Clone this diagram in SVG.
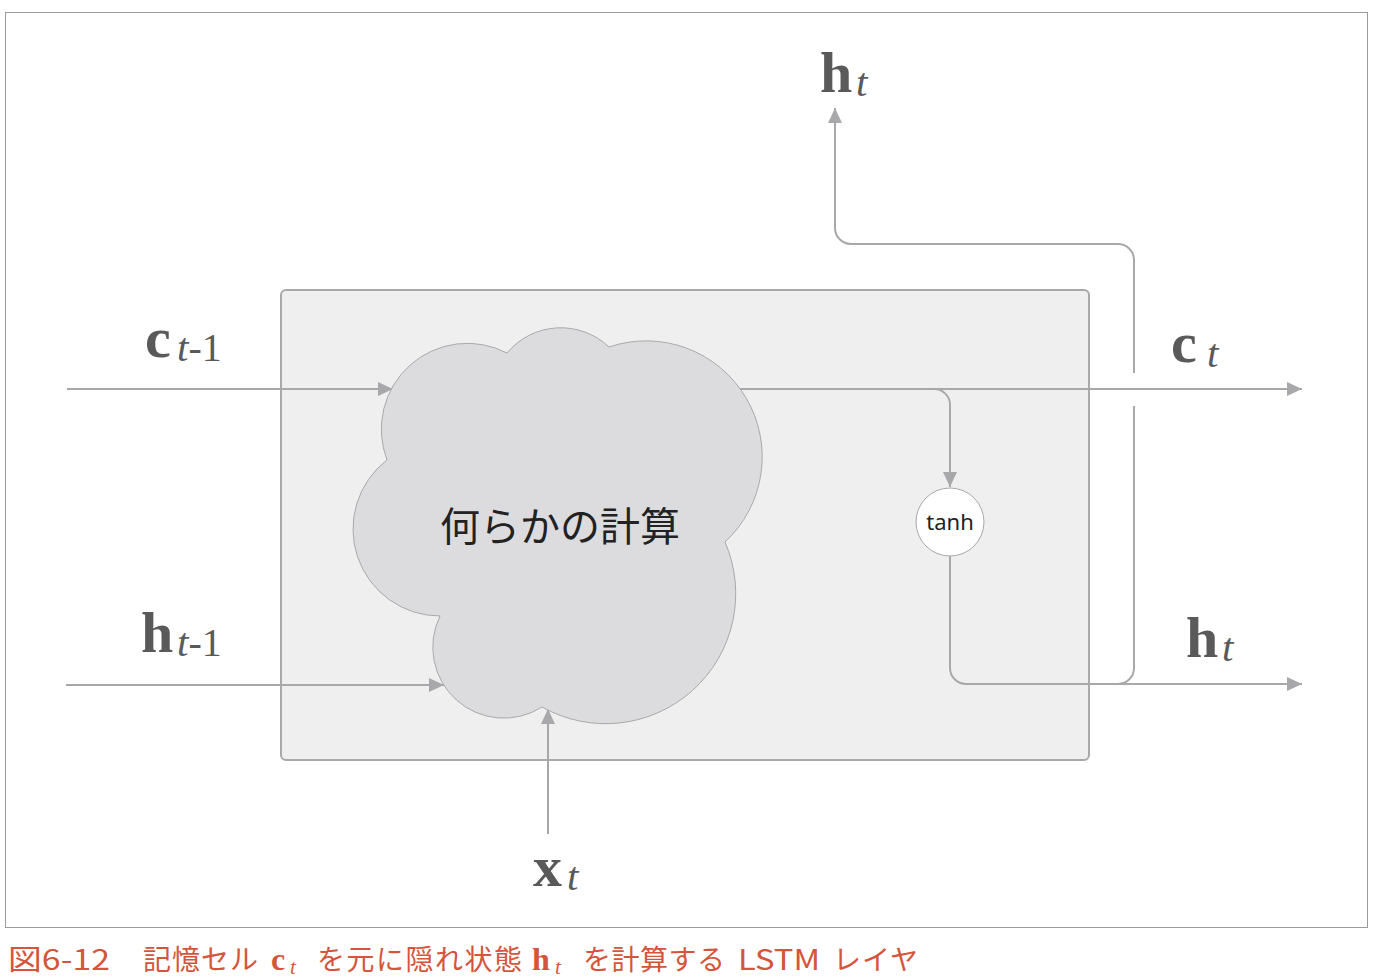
<svg xmlns="http://www.w3.org/2000/svg" width="1380" height="980" viewBox="0 0 1380 980">
<style>
.ln{fill:none;stroke:#a8a8ab;stroke-width:2}
.b{font-family:"Liberation Serif",serif;font-weight:bold;font-size:58px;fill:#5a5a5a}
.i{font-family:"Liberation Serif",serif;font-style:italic;font-size:41px;fill:#5a5a5a}
.n{font-family:"Liberation Serif",serif;font-size:40px;fill:#5a5a5a}
.cap{font-family:"Noto Sans CJK JP","Noto Sans",sans-serif;font-size:28px;fill:#d4553b}
.capb{font-family:"Liberation Serif",serif;font-weight:bold;font-size:32px;fill:#d4553b}
.capi{font-family:"Liberation Serif",serif;font-style:italic;font-size:21px;fill:#d4553b}
</style>
<defs>
<marker id="ah" markerUnits="userSpaceOnUse" markerWidth="16" markerHeight="14" refX="15" refY="7" orient="auto">
<path d="M0,0 L15,7 L0,14 z" fill="#a8a8ab"/>
</marker>
</defs>
<rect x="5.5" y="12.5" width="1362" height="915" fill="none" stroke="#9a9a9a" stroke-width="1"/>
<g id="layer">
<rect x="281" y="290" width="808" height="470" rx="5" fill="#efefef" stroke="#a9a9a9" stroke-width="2"/>
</g>
<g id="connectors">
<path class="ln" d="M67,389 H393" marker-end="url(#ah)"/>
<path class="ln" d="M66,685 H444" marker-end="url(#ah)"/>
<path class="ln" d="M548,834 V709" marker-end="url(#ah)"/>
<path class="ln" d="M740,389 H1302" marker-end="url(#ah)"/>
<path class="ln" d="M933,389 A16,16 0 0 1 950,406 V487" marker-end="url(#ah)"/>
<path class="ln" d="M950,556 V668 A16,16 0 0 0 966,684 H1302" marker-end="url(#ah)"/>
<path class="ln" d="M1118,684 A16,16 0 0 0 1134,668 V406"/>
<path class="ln" d="M1134,373 V260 A16,16 0 0 0 1118,244 H851 A16,16 0 0 1 835,228 V108" marker-end="url(#ah)"/>
</g>
<g id="cloud">
<path d="M387,460 A86,86 0 0 1 507,353 A70,70 0 0 1 609,347 A116,116 0 0 1 725,542 A130,130 0 0 1 542,707 A71,71 0 0 1 440,616 A87,87 0 0 1 387,460 Z" fill="#dcdcde" stroke="#a9a9ab" stroke-width="1"/>
<text x="560" y="541" text-anchor="middle" font-family="Noto Sans CJK JP,sans-serif" font-size="40" fill="#222">何らかの計算</text>
</g>
<g id="tanh">
<circle cx="950" cy="522" r="34" fill="#fff" stroke="#a9a9ab" stroke-width="1"/>
<text x="950" y="530" text-anchor="middle" font-family="Noto Sans,sans-serif" font-size="22" fill="#222">tanh</text>
</g>
<g id="labels">
<text y="92"><tspan class="b" x="820">h</tspan><tspan class="i" x="856" y="96">t</tspan></text>
<text y="357"><tspan class="b" x="145">c</tspan><tspan class="i" x="177" y="361">t</tspan><tspan class="n" y="361">-1</tspan></text>
<text y="652"><tspan class="b" x="141">h</tspan><tspan class="i" x="177" y="656">t</tspan><tspan class="n" y="656">-1</tspan></text>
<text y="362"><tspan class="b" x="1171">c</tspan><tspan class="i" x="1207" y="367">t</tspan></text>
<text y="657"><tspan class="b" x="1186">h</tspan><tspan class="i" x="1222" y="661">t</tspan></text>
<text y="886"><tspan class="b" x="533">x</tspan><tspan class="i" x="567" y="890">t</tspan></text>
</g>
<g id="caption">
<text class="cap" x="8" y="970" textLength="102" lengthAdjust="spacingAndGlyphs">図6-12</text>
<text class="cap" x="143" y="970" textLength="115" lengthAdjust="spacing">記憶セル</text>
<text y="970"><tspan class="capb" x="271">c</tspan><tspan class="capi" x="290" y="974">t</tspan></text>
<text class="cap" x="317" y="970" textLength="205" lengthAdjust="spacing">を元に隠れ状態</text>
<text y="970"><tspan class="capb" x="532">h</tspan><tspan class="capi" x="555" y="974">t</tspan></text>
<text class="cap" x="583" y="970" textLength="142" lengthAdjust="spacing">を計算する</text>
<text class="cap" x="738" y="970" textLength="82" lengthAdjust="spacingAndGlyphs">LSTM</text>
<text class="cap" x="833" y="970" textLength="85" lengthAdjust="spacing">レイヤ</text>
</g>
</svg>
